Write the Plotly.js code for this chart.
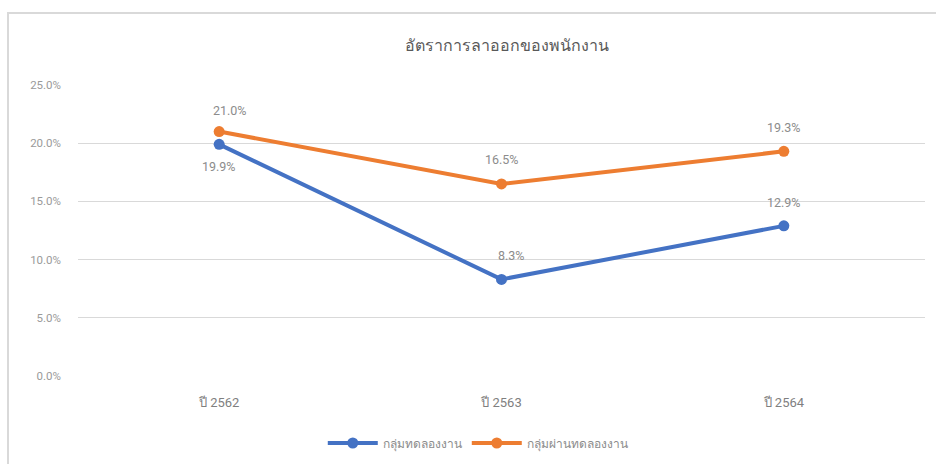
<!DOCTYPE html>
<html>
<head>
<meta charset="utf-8">
<script src="https://cdn.plot.ly/plotly-3.0.1.min.js"></script>
<style>
  html, body { margin: 0; padding: 0; background: #fff; }
  #frame { position: absolute; left: 7px; top: 12px; width: 929px; height: 452px;
           border-left: 2px solid #d9d9d9; border-top: 2px solid #d9d9d9; box-sizing: border-box; }
  #chart { position: absolute; left: 9px; top: 14px; width: 927px; height: 450px; }
</style>
</head>
<body>
<div id="frame"></div>
<div id="chart"></div>
<script>
const chartTitle = "อัตราการลาออกของพนักงาน";
const categories = ["ปี 2562", "ปี 2563", "ปี 2564"];
const seriesNames = ["กลุ่มทดลองงาน", "กลุ่มผ่านทดลองงาน"];
const probationValues = [19.9, 8.3, 12.9];
const passedValues = [21.0, 16.5, 19.3];

const FONT = "Roboto, 'Noto Sans', 'Noto Sans CJK SC', sans-serif";
const labelFont = { family: FONT, size: 12.5, color: "#8c8c8c" };

// label placement (style only): horizontal / vertical pixel shifts per point
const probationLabelShift = [[0, -22], [10, 24], [0, 23]];
const passedLabelShift = [[11, 21], [0, 24], [0, 24]];

const traces = [
  {
    x: categories, y: probationValues, name: seriesNames[0],
    type: "scatter", mode: "lines+markers",
    line: { color: "#4472C4", width: 4 },
    marker: { color: "#4472C4", size: 11 },
    cliponaxis: false, hoverinfo: "skip"
  },
  {
    x: categories, y: passedValues, name: seriesNames[1],
    type: "scatter", mode: "lines+markers",
    line: { color: "#ED7D31", width: 4 },
    marker: { color: "#ED7D31", size: 11 },
    cliponaxis: false, hoverinfo: "skip"
  }
];

function labels(vals, shifts) {
  return vals.map((v, i) => ({
    x: categories[i], y: v, xref: "x", yref: "y",
    text: v.toFixed(1) + "%", showarrow: false,
    xshift: shifts[i][0], yshift: shifts[i][1],
    font: labelFont, xanchor: "center", yanchor: "middle"
  }));
}

const layout = {
  width: 927, height: 450,
  margin: { l: 69, r: 11, t: 71, b: 88, autoexpand: false },
  paper_bgcolor: "rgba(0,0,0,0)", plot_bgcolor: "rgba(0,0,0,0)",
  font: { family: FONT, color: "#7f7f7f" },
  title: { text: chartTitle, x: 0.537, xanchor: "center", y: 1 - 31/450, yanchor: "middle",
           yref: "container", font: { family: FONT, size: 16, color: "#595959" } },
  xaxis: {
    type: "category", range: [-0.5, 2.5], showgrid: false, zeroline: false,
    showline: false, ticks: "", tickfont: { family: FONT, size: 13, color: "#7f7f7f" },
    ticklabelstandoff: 17, fixedrange: true
  },
  yaxis: {
    range: [0, 25], dtick: 5, tickformat: ".1f", ticksuffix: "%",
    gridcolor: "#d9d9d9", gridwidth: 1, zeroline: false, showline: false,
    tickfont: { family: FONT, size: 11.5, color: "#9a9a9a" }, ticklabelstandoff: 16,
    fixedrange: true
  },
  annotations: labels(probationValues, probationLabelShift).concat(labels(passedValues, passedLabelShift)),
  showlegend: true,
  legend: { orientation: "h", x: 0.472, xanchor: "center", yref: "container", y: 21/450, yanchor: "middle",
            font: { family: FONT, size: 12, color: "#8c8c8c" }, itemwidth: 50, traceorder: "normal" }
};

Plotly.newPlot("chart", traces, layout, { displayModeBar: false, staticPlot: true });
</script>
</body>
</html>
